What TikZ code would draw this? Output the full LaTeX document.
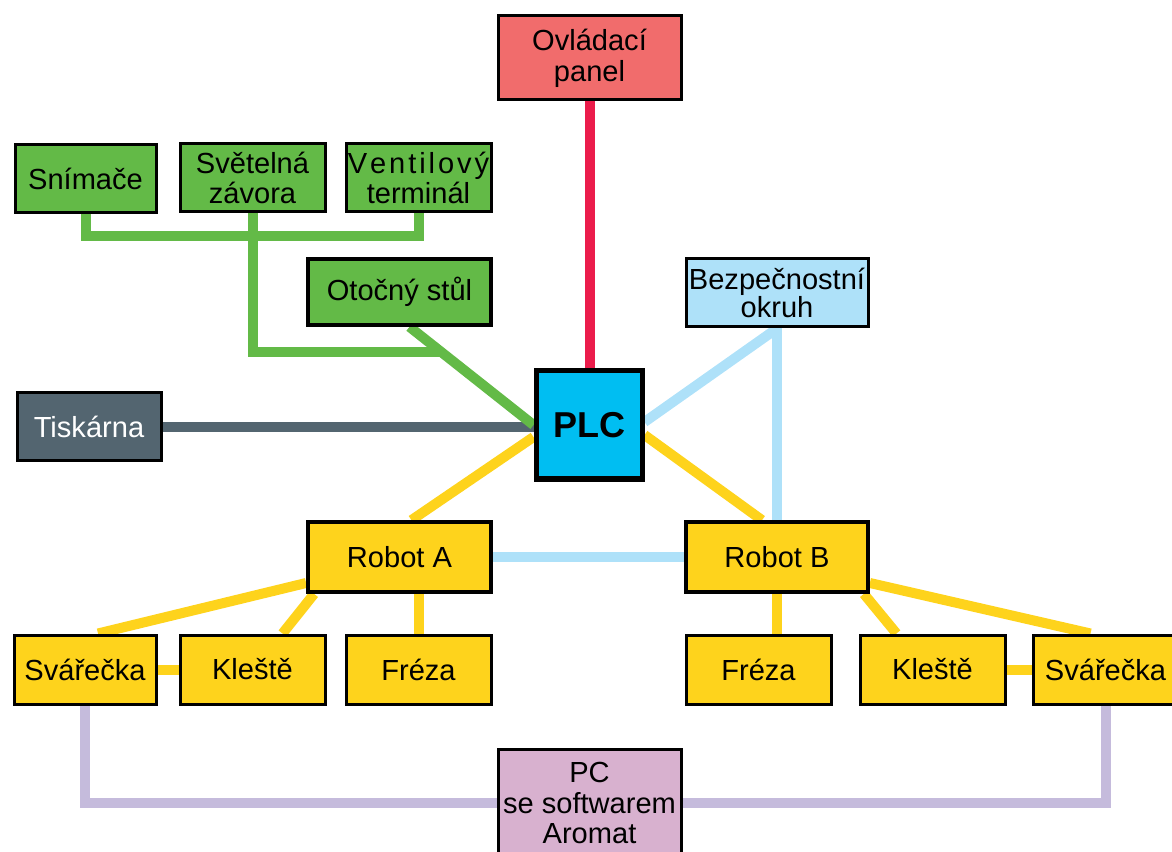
\documentclass[tikz,border=0pt]{standalone}
\usepackage{fontspec}
\setmainfont{Liberation Sans}
\usetikzlibrary{calc}
\pgfdeclarelayer{bg}\pgfsetlayers{bg,main}
\definecolor{cgreen}{HTML}{63BA47}
\definecolor{cred}{HTML}{EB1C4B}
\definecolor{cpink}{HTML}{F16C6C}
\definecolor{cslate}{HTML}{536570}
\definecolor{cplc}{HTML}{00BEF2}
\definecolor{clblue}{HTML}{AEE1F9}
\definecolor{cyellow}{HTML}{FED31C}
\definecolor{clav}{HTML}{C5BBDC}
\definecolor{cpc}{HTML}{D8B1CF}
\begin{document}
\begin{tikzpicture}[x=0.75pt,y=-0.75pt,
  box/.style={draw=black, line width=2.25pt, inner sep=0pt, align=center,
    font=\fontsize{21.8}{22}\selectfont},
  dim/.style 2 args={minimum width=#1, minimum height=#2},
  conn/.style={line width=7.5pt}]
\useasboundingbox (0,0) rectangle (1172,852);
% nodes
\node[box, fill=cpink, dim={137.25pt}{63pt}, font=\fontsize{21.8}{23.2}\selectfont] (op) at (589.5,58) {Ovládací\\panel};
\node[box, fill=cgreen, dim={105.75pt}{51pt}] (sn) at (85.5,179) {Snímače};
\node[box, fill=cgreen, dim={108.75pt}{51pt}] (sz) at (252.5,178) {Světelná\\závora};
\node[box, fill=cgreen, dim={108.75pt}{51pt}] (vt) at (418.5,178) {\makebox[106pt][s]{V\hfill e\hfill n\hfill t\hfill i\hfill l\hfill o\hfill v\hfill ý}\\terminál};
\node[box, fill=cgreen, line width=2.8pt, dim={137.25pt}{49.5pt}] (ot) at (399.5,292) {Otočný stůl};
\node[box, fill=clblue, dim={136.5pt}{51pt}, font=\fontsize{21.8}{20.5}\selectfont] (bo) at (777,293) {Bezpečnostní\\okruh};
\node[box, fill=cslate, text=white, dim={108pt}{51pt}] (tisk) at (89,427) {Tiskárna};
\node[box, fill=cplc, line width=3.75pt, dim={79.5pt}{81pt}, font=\fontsize{27}{30}\selectfont\bfseries] (plc) at (589,425) {PLC};
\node[box, fill=cyellow, line width=2.8pt, dim={137.25pt}{52.5pt}] (ra) at (399.5,557) {Robot A};
\node[box, fill=cyellow, line width=2.8pt, dim={136.5pt}{52.5pt}] (rb) at (777,557) {Robot B};
\node[box, fill=cyellow, dim={106.5pt}{51.75pt}] (sl) at (85,669.5) {Svářečka};
\node[box, fill=cyellow, dim={108.75pt}{51.75pt}] (kl) at (252.5,669.5) {Kleště};
\node[box, fill=cyellow, dim={108.75pt}{51.75pt}] (fl) at (418.5,669.5) {Fréza};
\node[box, fill=cyellow, dim={108.75pt}{51.75pt}] (fr) at (758.5,669.5) {Fréza};
\node[box, fill=cyellow, dim={108.75pt}{51.75pt}] (kr) at (932.5,669.5) {Kleště};
\node[box, fill=cyellow, dim={108.75pt}{51.75pt}] (sr) at (1105.5,669.5) {Svářečka};
\node[box, fill=cpc, dim={137.25pt}{81pt}, font=\fontsize{21.8}{23.2}\selectfont] (pc) at (589.5,803) {PC\\se softwarem\\Aromat};
\coordinate (gj) at (443,352);
% connectors
\begin{pgfonlayer}{bg}
\draw[conn, cred] (op.south) -- (op.south |- plc.north);
\draw[conn, cslate] (tisk.east) -- (tisk.east -| plc.west);
\draw[conn, cgreen] (sn.south) -- ++(0,22) -| (vt.south);
\draw[conn, cgreen] (sz.south) |- (gj);
\draw[conn, cgreen] ($(ot.south)+(10,0)$) -- (plc.west);
\draw[conn, clblue] (bo.south) -- ($(plc.east)+(0,-3)$);
\draw[conn, clblue] (bo.south) -- (rb.north);
\draw[conn, clblue] (ra.east) -- (rb.west);
\draw[conn, cyellow] ($(plc.west)+(0,12)$) -- ($(ra.north)+(12,0)$);
\draw[conn, cyellow] ($(plc.east)+(0,10)$) -- ($(rb.north)+(-15,0)$);
\draw[conn, cyellow] ($(ra.west)+(0,26)$) -- ($(sl.north)+(13,0)$);
\draw[conn, cyellow] ($(ra.south west)+(8,0)$) -- ($(kl.north)+(30,0)$);
\draw[conn, cyellow] (fl.north) -- (fl.north |- ra.south);
\draw[conn, cyellow] (sl.east) -- (kl.west);
\draw[conn, cyellow] (rb.south) -- (rb.south |- fr.north);
\draw[conn, cyellow] ($(rb.south east)+(-6,0)$) -- ($(kr.north)+(-36,0)$);
\draw[conn, cyellow] ($(rb.east)+(0,26)$) -- ($(sr.north)+(-15,0)$);
\draw[conn, cyellow] (kr.east) -- (sr.west);
\draw[conn, clav] (sl.south) |- (pc.west);
\draw[conn, clav] (pc.east) -| (sr.south);
\end{pgfonlayer}
\end{tikzpicture}
\end{document}
